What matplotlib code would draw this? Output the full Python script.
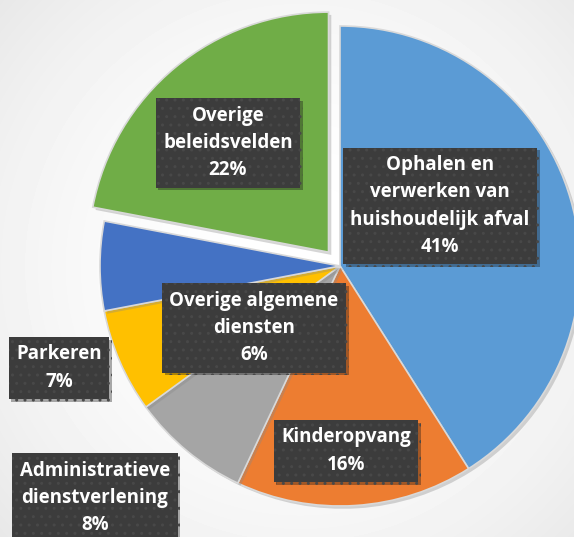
import numpy as np
import matplotlib
matplotlib.use("Agg")
import matplotlib.pyplot as plt
import matplotlib.patheffects as pe

categories = ["Ophalen en\nverwerken van\nhuishoudelijk afval", "Kinderopvang",
              "Administratieve\ndienstverlening", "Parkeren",
              "Overige algemene\ndiensten", "Overige\nbeleidsvelden"]
values = [41, 16, 8, 7, 6, 22]
colors = ["#5B9BD5", "#ED7D31", "#A5A5A5", "#FFC000", "#4472C4", "#70AD47"]
explode_frac = [0, 0, 0, 0, 0, 0.075]
label_pos = [(440, 331), (346, 86), (95, 39), (59, 169), (254, 209), (228, 394)]

W, H = 574, 537
R = 240
fig = plt.figure(figsize=(W / 100, H / 100), dpi=100)
ax = fig.add_axes([0, 0, 1, 1])

# subtle radial background
yy, xx = np.mgrid[0:H, 0:W]
r = np.hypot(xx - 300, yy - 270) / 420
bg = 1 - 0.10 * np.clip(r, 0, 1) ** 2
ax.imshow(bg, cmap="gray", vmin=0, vmax=1, extent=(0, W, 0, H), origin="lower", zorder=0)

wedges, _ = ax.pie(values, colors=colors, explode=[e * R for e in explode_frac], startangle=90,
                   counterclock=False, center=(340, 271), radius=R, frame=True,
                   wedgeprops=dict(edgecolor="#d9d9d9", linewidth=1.2))
for w in wedges:
    w.set_zorder(2)
    w.set_path_effects([pe.SimplePatchShadow(offset=(2, -2), shadow_rgbFace="#888888", alpha=0.35), pe.Normal()])
ax.set_xlim(0, W)
ax.set_ylim(0, H)
ax.set_aspect("equal")
ax.axis("off")

for cat, v, (x, y) in zip(categories, values, label_pos):
    t = ax.text(x, y, f"{cat}\n{v}%", ha="center", va="center", color="white",
                fontsize=13.5, fontweight="bold", family=["Open Sans", "DejaVu Sans"],
                linespacing=1.48, zorder=5,
                bbox=dict(boxstyle="square,pad=0.4", facecolor="#3c3c3c",
                          edgecolor="#484848", hatch="..", linewidth=0))
    t.get_bbox_patch().set_path_effects([pe.SimplePatchShadow(offset=(2, -2), alpha=0.35), pe.Normal()])

fig.savefig("out.png", dpi=100)
